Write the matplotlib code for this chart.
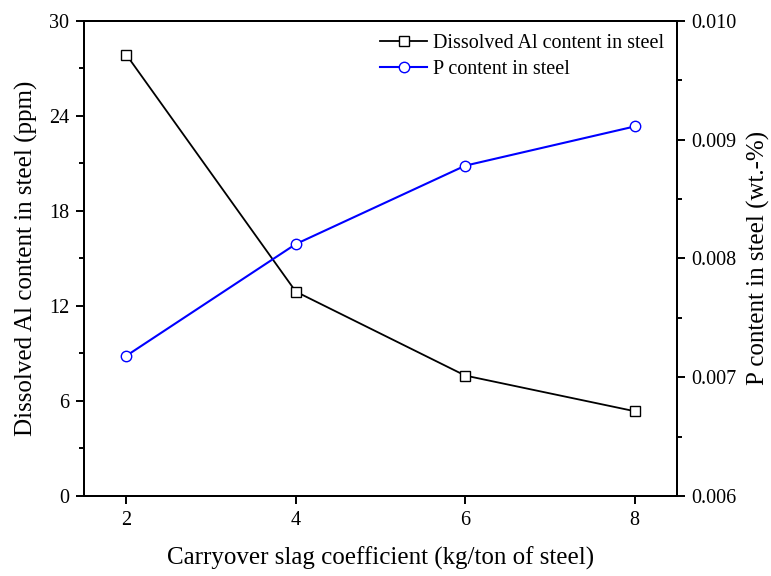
import matplotlib.pyplot as plt
from matplotlib.ticker import MultipleLocator, AutoMinorLocator

plt.rcParams['font.family'] = ['Liberation Serif', 'DejaVu Serif']

slag = [2, 4, 6, 8]
al_ppm = [27.85, 12.9, 7.6, 5.35]
p_wt = [0.00718, 0.00812, 0.00878, 0.00911]

fig = plt.figure(figsize=(7.71, 5.76), dpi=100)
ax = fig.add_axes([0.109, 0.139, 0.769, 0.825])
ax2 = ax.twinx()

l1, = ax.plot(slag, al_ppm, '-s', color='black', lw=1.3, ms=6.5,
              mfc='white', mec='black', mew=1.0,
              label='Dissolved Al content in steel')
l2, = ax2.plot(slag, p_wt, '-o', color='blue', lw=1.5, ms=7.5,
               mfc='white', mec='blue', mew=1.0,
               label='P content in steel')

ax.set_xlim(1.5, 8.5)
ax.set_ylim(0, 30)
ax2.set_ylim(0.006, 0.010)
ax.set_xticks(slag)
ax.yaxis.set_major_locator(MultipleLocator(6))
ax.yaxis.set_minor_locator(AutoMinorLocator(2))
ax2.yaxis.set_major_locator(MultipleLocator(0.001))
ax2.yaxis.set_minor_locator(AutoMinorLocator(2))
ax2.yaxis.set_major_formatter(plt.FormatStrFormatter('%.3f'))

for a in (ax, ax2):
    a.tick_params(which='major', direction='out', length=6, width=1.4,
                  labelsize=14.5, pad=4.5)
    a.tick_params(which='minor', direction='out', length=3.3, width=1.4)
    for s in a.spines.values():
        s.set_linewidth(1.4)

ax.set_xlabel('Carryover slag coefficient (kg/ton of steel)', fontsize=18, labelpad=12)
ax.set_ylabel('Dissolved Al content in steel (ppm)', fontsize=18, labelpad=8)
ax2.set_ylabel('P content in steel (wt.-%)', fontsize=18, labelpad=7)

ax.legend(handles=[l1, l2], loc='upper right', frameon=False, fontsize=14.5,
          handlelength=2.3, handletextpad=0.3, labelspacing=0.37,
          borderaxespad=0.25)

fig.savefig('out.png', dpi=100)
